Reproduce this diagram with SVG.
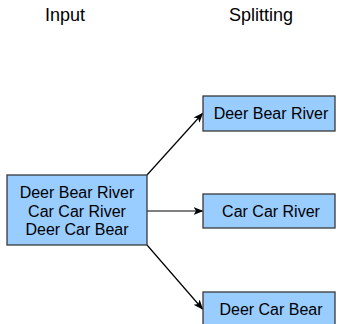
<svg xmlns="http://www.w3.org/2000/svg" width="341" height="324" viewBox="0 0 341 324">
<style>
.box{fill:#99CCFF;stroke:#36393d;stroke-width:1.3}
.t{font-family:"Liberation Sans",Arial,sans-serif;font-size:16px;fill:#000;text-anchor:middle}
.h{font-family:"Liberation Sans",Arial,sans-serif;font-size:18px;fill:#000;text-anchor:middle}
.c{stroke:#000;stroke-width:1.2;fill:none;marker-end:url(#ah)}
</style>
<defs>
<marker id="ah" viewBox="0 0 10 10" refX="9" refY="5" markerWidth="10" markerHeight="10" markerUnits="userSpaceOnUse" orient="auto">
<path d="M0,1 L10,5 L0,9 L2.5,5 Z" fill="#000"/>
</marker>
</defs>
<g id="title-input"><text class="h" x="65" y="20.5">Input</text></g>
<g id="title-splitting"><text class="h" x="261" y="20.5">Splitting</text></g>
<g id="connectors">
<line class="c" x1="147" y1="175" x2="202.5" y2="113.5"/>
<line class="c" x1="147" y1="211" x2="202.5" y2="211"/>
<line class="c" x1="147" y1="245" x2="202.5" y2="309"/>
</g>
<g id="input">
<rect class="box" x="7" y="175" width="140" height="70"/>
<text class="t" x="77" y="198">Deer Bear River</text>
<text class="t" x="77" y="216.5">Car Car River</text>
<text class="t" x="77" y="234.5">Deer Car Bear</text>
</g>
<g id="split1">
<rect class="box" x="203" y="96" width="132" height="35"/>
<text class="t" x="271" y="119">Deer Bear River</text>
</g>
<g id="split2">
<rect class="box" x="203" y="194" width="132" height="34"/>
<text class="t" x="271" y="216.5">Car Car River</text>
</g>
<g id="split3">
<rect class="box" x="203" y="292" width="132" height="35"/>
<text class="t" x="271" y="315">Deer Car Bear</text>
</g>
</svg>
